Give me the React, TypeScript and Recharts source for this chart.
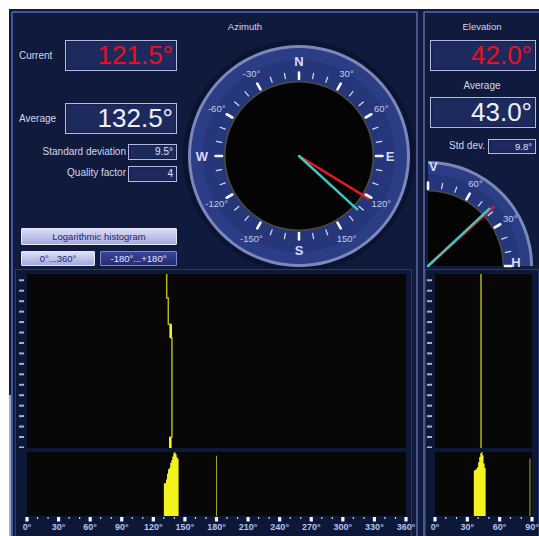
import React from 'react';
import {
  PieChart, Pie, RadialBarChart, RadialBar, PolarAngleAxis,
  LineChart, Line, XAxis, YAxis, CartesianGrid, ComposedChart, Area,
} from 'recharts';

const FONT = '"Liberation Sans", Arial, Helvetica, sans-serif';

// ---------- readouts ----------
const azCurrent = 121.5;
const azAverage = 132.5;
const azStdDev = 9.5;
const azQuality = 4;
const elCurrent = 42.0;
const elAverage = 43.0;
const elStdDev = 9.8;

// ---------- dials ----------
const azDialTicks = [0, 10, 20, 30, 40, 50, 60, 70, 80, 90, 100, 110, 120, 130, 140, 150, 160, 170,
  180, 190, 200, 210, 220, 230, 240, 250, 260, 270, 280, 290, 300, 310, 320, 330, 340, 350];
const azDialLabels: Record<number, string> = {
  0: 'N', 30: '30°', 60: '60°', 90: 'E', 120: '120°', 150: '150°', 180: 'S',
  210: '-150°', 240: '-120°', 270: 'W', 300: '-60°', 330: '-30°',
};
const elDialTicks = [0, 10, 20, 30, 40, 50, 60, 70, 80, 90];
const elDialLabels: Record<number, string> = { 0: 'H', 30: '30°', 60: '60°', 90: 'V' };
const dialFace = [{ name: 'face', value: 1 }];

// ---------- histograms ----------
const azHistDeg = [130, 131, 132, 133, 134, 135, 136, 137, 138, 139, 140, 141, 142, 143, 144];
const azHistCount = [51, 51, 57, 66, 73, 75, 83, 87, 93, 98, 100, 97, 92, 89, 0];
const azSpikeDeg = [179.5, 180.5];
const azSpikeCount = [94, 0];
const azAxisTicks = [0, 10, 20, 30, 40, 50, 60, 70, 80, 90, 100, 110, 120, 130, 140, 150, 160, 170, 180,
  190, 200, 210, 220, 230, 240, 250, 260, 270, 280, 290, 300, 310, 320, 330, 340, 350, 360];

const elHistDeg = [36, 37, 38, 39, 40, 41, 42, 43, 44, 45, 46, 47];
const elHistCount = [71, 72, 74, 76, 84, 92, 98, 100, 95, 82, 75, 0];
const elSpikeDeg = [87.6, 88.6];
const elSpikeCount = [90, 0];
const elAxisTicks = [0, 10, 20, 30, 40, 50, 60, 70, 80, 90];

// ---------- traces (time runs downward) ----------
const timeDomain: [number, number] = [-0.6, 16.05];
const timeTicks = [0, 1, 2, 3, 4, 5, 6, 7, 8, 9, 10, 11, 12, 13, 14, 15, 16];
const azTraceAz = [132.7, 132.7, 134.2, 134.2, 136.5, 136.5, 137.7, 137.7, 136.1, 136.1];
const azTraceT = [-0.6, 1.7, 1.7, 4.2, 4.2, 5.5, 5.5, 15.0, 15.0, 16.05];
const azTraceDense = [null, null, null, null, 4.2, 5.5, null, null, 15.0, 16.05];
const elTraceEl = [42.7, 42.7];
const elTraceT = [-0.6, 16.05];

// ---------- build tables ----------
const histTable = (deg: number[], cnt: number[], sDeg: number[], sCnt: number[]) => [
  ...deg.map((d, i) => ({ deg: d, hist: cnt[i] })),
  ...sDeg.map((d, i) => ({ deg: d, spike: sCnt[i] })),
];
const azHistData = histTable(azHistDeg, azHistCount, azSpikeDeg, azSpikeCount);
const elHistData = histTable(elHistDeg, elHistCount, elSpikeDeg, elSpikeCount);
const azTraceData = azTraceAz.map((a, i) => ({ az: a, t: azTraceT[i], tb: azTraceDense[i] }));
const elTraceData = elTraceEl.map((a, i) => ({ az: a, t: elTraceT[i] }));
const azNeedles = [{ name: 'azimuth', current: azCurrent, average: azAverage }];
const elNeedles = [{ name: 'elevation', current: elCurrent, average: elAverage }];

// ---------- helpers ----------
const RAD = Math.PI / 180;
const polar = (cx: number, cy: number, r: number, ang: number) => ({
  x: cx + r * Math.cos(-ang * RAD),
  y: cy + r * Math.sin(-ang * RAD),
});

const makeDialTick = (cx: number, cy: number, labels: Record<number, string>, shift: Record<number, [number, number]>) =>
  (props: any) => {
    const v = props.payload.value;
    const ang = props.payload.coordinate;
    const major = v % 30 === 0;
    const a = polar(cx, cy, major ? 77 : 78.5, ang);
    const b = polar(cx, cy, major ? 83.5 : 84, ang);
    const lbl = labels[v];
    const s = shift[v] || [95, 0];
    const lp = polar(cx, cy, s[0], ang + s[1]);
    const isLetter = lbl && !lbl.includes('°');
    return (
      <g>
        <line x1={a.x} y1={a.y} x2={b.x} y2={b.y} stroke={major ? '#f4f6ff' : '#d6dcf4'}
          strokeWidth={major ? 2.6 : 1.2} strokeLinecap="round" />
        {lbl && (
          <text x={lp.x} y={lp.y} textAnchor="middle" dominantBaseline="central"
            fontFamily={FONT} fontSize={isLetter ? 13 : 9.5} fontWeight={isLetter ? 'bold' : 'normal'}
            fill={isLetter ? '#d4dafc' : '#c6ccee'}>{lbl}</text>
        )}
      </g>
    );
  };

const needle = (color: string, len: number, w: number) => (props: any) => {
  const { cx, cy, endAngle } = props;
  const p = polar(cx, cy, len, endAngle);
  return <line x1={cx} y1={cy} x2={p.x} y2={p.y} stroke={color} strokeWidth={w} strokeLinecap="round" />;
};

const degTick = (every: number) => (props: any) => {
  const { x, y, payload } = props;
  const v = payload.value;
  if (v % every !== 0) {
    return <rect x={x - 0.6} y={y + 1} width={1.2} height={2} fill="#cfd4ee" />;
  }
  return (
    <g>
      <rect x={x - 1.6} y={y + 1} width={3.2} height={4.5} fill="#f2f4ff" />
      <text x={x} y={y + 14} textAnchor="middle" fontFamily={FONT} fontSize={9} fontWeight="bold"
        fill="#b6c2f2">{v}°</text>
    </g>
  );
};

const dashTick = (props: any) => {
  const { x, y } = props;
  return <rect x={x - 5} y={y - 1} width={5} height={2} fill="#a8b0d4" />;
};

// ---------- UI bits ----------
const abs = (left: number, top: number, extra: React.CSSProperties = {}): React.CSSProperties => ({
  position: 'absolute', left, top, ...extra,
});

const ValueBox = ({ left, top, width, height, text, color, size }: any) => (
  <div style={abs(left, top, {
    width, height, boxSizing: 'border-box', background: '#1d2a5e',
    border: '1px solid #b4bbde', boxShadow: 'inset 0 0 2px #0a1030',
    color, fontSize: size, fontFamily: FONT, textAlign: 'right', paddingRight: 3,
    lineHeight: `${height - 2}px`, overflow: 'hidden', whiteSpace: 'nowrap',
  })}>{text}</div>
);

const Label = ({ left, right, center, y, text, size = 10 }: any) => {
  const st: React.CSSProperties = {
    position: 'absolute', top: y - 7, height: 14, lineHeight: '14px', fontSize: size,
    fontFamily: FONT, color: '#d2d6ea', whiteSpace: 'nowrap',
  };
  if (left !== undefined) st.left = left;
  if (right !== undefined) { st.left = right - 200; st.width = 200; st.textAlign = 'right'; }
  if (center !== undefined) { st.left = center - 100; st.width = 200; st.textAlign = 'center'; }
  return <div style={st}>{text}</div>;
};

const Button = ({ left, top, width, height, text, dark }: any) => (
  <div style={abs(left, top, {
    width, height, boxSizing: 'border-box',
    background: dark ? 'linear-gradient(#3a449a, #232c72)' : 'linear-gradient(#dcdef8, #a4a9dc)',
    border: dark ? '1px solid #7e88c8' : '1px solid #e6e8fb',
    color: dark ? '#e6e9fb' : '#1c2572', fontSize: 9.5, fontFamily: FONT,
    textAlign: 'center', lineHeight: `${height - 2}px`, whiteSpace: 'nowrap', borderRadius: 1,
  })}>{text}</div>
);

const fmt = (v: number) => `${v.toFixed(1)}°`;

export default function App() {
  const AZ_CX = 120;
  const AZ_CY = 120;
  const EL_CX = 4;
  const EL_CY = 116;
  return (
    <div style={{ position: 'fixed', left: 0, top: 0, width: 539, height: 536, background: '#ffffff', overflow: 'hidden', fontFamily: FONT }}>
      <div style={abs(9, 9, { width: 530, height: 527, background: '#101a3d' })} />
      <div style={abs(9, 395, { width: 2, height: 141, background: '#8fb2d6' })} />

      {/* panels */}
      <div style={abs(11, 11, { width: 407, height: 540, boxSizing: 'border-box', border: '2px solid #46568e', borderRadius: 2 })} />
      <div style={abs(423, 11, { width: 130, height: 540, boxSizing: 'border-box', border: '2px solid #46568e', borderRadius: 2 })} />

      <Label center={245} y={27} text="Azimuth" size={9.5} />
      <Label center={482} y={27} text="Elevation" size={9.5} />

      {/* azimuth readouts */}
      <Label left={19} y={56} text="Current" />
      <ValueBox left={65} top={40} width={112} height={31} text={fmt(azCurrent)} color="#e6121e" size={26} />
      <Label left={19} y={119} text="Average" />
      <ValueBox left={65} top={103} width={112} height={31} text={fmt(azAverage)} color="#eef0fa" size={26} />
      <Label right={126} y={152} text="Standard deviation" />
      <ValueBox left={128} top={144} width={49} height={16} text={fmt(azStdDev)} color="#dfe3f6" size={10} />
      <Label right={126} y={173} text="Quality factor" />
      <ValueBox left={128} top={166} width={49} height={16} text={String(azQuality)} color="#dfe3f6" size={10} />

      <Button left={21} top={228} width={156} height={17} text="Logarithmic histogram" />
      <Button left={21} top={251} width={74} height={15} text="0°...360°" />
      <Button left={100} top={251} width={77} height={15} text="-180°...+180°" dark />

      {/* elevation readouts */}
      <ValueBox left={430} top={40} width={106} height={31} text={fmt(elCurrent)} color="#e6121e" size={26} />
      <Label center={482} y={86} text="Average" />
      <ValueBox left={430} top={97} width={106} height={31} text={fmt(elAverage)} color="#eef0fa" size={26} />
      <Label right={485} y={146} text="Std dev." />
      <ValueBox left={488} top={139} width={48} height={15} text={fmt(elStdDev)} color="#dfe3f6" size={9.5} />

      {/* azimuth compass face */}
      <div style={abs(179, 36)}>
        <PieChart width={240} height={240} margin={{ top: 0, right: 0, bottom: 0, left: 0 }}>
          <Pie data={dialFace} dataKey="value" cx={AZ_CX} cy={AZ_CY} innerRadius={108} outerRadius={116}
            startAngle={90} endAngle={-270} fill="#0b1331" stroke="none" isAnimationActive={false} />
          <Pie data={dialFace} dataKey="value" cx={AZ_CX} cy={AZ_CY} innerRadius={74} outerRadius={110}
            startAngle={90} endAngle={-270} fill="#25367a" stroke="none" isAnimationActive={false} />
          <Pie data={dialFace} dataKey="value" cx={AZ_CX} cy={AZ_CY} innerRadius={96} outerRadius={108}
            startAngle={90} endAngle={-270} fill="#2b3d84" stroke="none" isAnimationActive={false} />
          <Pie data={dialFace} dataKey="value" cx={AZ_CX} cy={AZ_CY} innerRadius={108} outerRadius={111}
            startAngle={90} endAngle={-270} fill="#7c88bc" stroke="none" isAnimationActive={false} />
          <Pie data={dialFace} dataKey="value" cx={AZ_CX} cy={AZ_CY} innerRadius={0} outerRadius={75}
            startAngle={90} endAngle={-270} fill="#4c4c42" stroke="none" isAnimationActive={false} />
          <Pie data={dialFace} dataKey="value" cx={AZ_CX} cy={AZ_CY} innerRadius={0} outerRadius={73.5}
            startAngle={90} endAngle={-270} fill="#040404" stroke="none" isAnimationActive={false} />
        </PieChart>
      </div>
      <div style={abs(179, 36)}>
        <RadialBarChart width={240} height={240} data={azNeedles} cx={AZ_CX} cy={AZ_CY}
          innerRadius={0} outerRadius={74} startAngle={90} endAngle={-270}
          margin={{ top: 0, right: 0, bottom: 0, left: 0 }}>
          <PolarAngleAxis type="number" domain={[0, 360]} ticks={azDialTicks} axisLine={false}
            tickLine={false} tick={makeDialTick(AZ_CX, AZ_CY, azDialLabels, { 0: [95, 0], 90: [91, 0], 180: [94, 0], 270: [97, 0] })} />
          <RadialBar dataKey="current" isAnimationActive={false} shape={needle('#e2182a', 81, 2.6)} />
          <RadialBar dataKey="average" isAnimationActive={false} shape={needle('#3cc8c2', 79, 2.4)} />
        </RadialBarChart>
      </div>

      {/* elevation quarter dial */}
      <div style={abs(424, 150)}>
        <PieChart width={115} height={120} margin={{ top: 0, right: 0, bottom: 0, left: 0 }}>
          <Pie data={dialFace} dataKey="value" cx={EL_CX} cy={EL_CY} innerRadius={75} outerRadius={104}
            startAngle={0} endAngle={90} fill="#25367a" stroke="none" isAnimationActive={false} />
          <Pie data={dialFace} dataKey="value" cx={EL_CX} cy={EL_CY} innerRadius={92} outerRadius={102}
            startAngle={0} endAngle={90} fill="#2b3d84" stroke="none" isAnimationActive={false} />
          <Pie data={dialFace} dataKey="value" cx={EL_CX} cy={EL_CY} innerRadius={102} outerRadius={105}
            startAngle={0} endAngle={90} fill="#7c88bc" stroke="none" isAnimationActive={false} />
          <Pie data={dialFace} dataKey="value" cx={EL_CX} cy={EL_CY} innerRadius={0} outerRadius={76}
            startAngle={0} endAngle={90} fill="#4c4c42" stroke="none" isAnimationActive={false} />
          <Pie data={dialFace} dataKey="value" cx={EL_CX} cy={EL_CY} innerRadius={0} outerRadius={74.5}
            startAngle={0} endAngle={90} fill="#040404" stroke="none" isAnimationActive={false} />
        </PieChart>
      </div>
      <div style={abs(424, 150)}>
        <RadialBarChart width={115} height={120} data={elNeedles} cx={EL_CX} cy={EL_CY}
          innerRadius={0} outerRadius={75} startAngle={0} endAngle={90}
          margin={{ top: 0, right: 0, bottom: 0, left: 0 }}>
          <PolarAngleAxis type="number" domain={[0, 90]} ticks={elDialTicks} axisLine={false}
            tickLine={false} tick={makeDialTick(EL_CX, EL_CY, elDialLabels, { 90: [100, -3], 0: [88, 2.5] })} />
          <RadialBar dataKey="current" isAnimationActive={false} shape={needle('#e2182a', 88, 2.6)} />
          <RadialBar dataKey="average" isAnimationActive={false} shape={needle('#3cc8c2', 84, 2.4)} />
        </RadialBarChart>
      </div>

      {/* chart frames */}
      <div style={abs(15, 269, { width: 397, height: 270, boxSizing: 'border-box', border: '1px solid #2a3a70', background: '#0d1737' })} />
      <div style={abs(425, 269, { width: 114, height: 270, boxSizing: 'border-box', border: '1px solid #2a3a70', background: '#0d1737' })} />

      {/* azimuth trace */}
      <div style={abs(16, 274)}>
        <LineChart width={390} height={174} data={azTraceData} margin={{ top: 0, right: 0, bottom: 0, left: 0 }}>
          <CartesianGrid fill="#070707" horizontal={false} vertical={false} />
          <XAxis type="number" dataKey="az" domain={[0, 360]} hide />
          <YAxis type="number" domain={timeDomain} ticks={timeTicks} reversed width={11} interval={0}
            axisLine={false} tickLine={false} tickSize={0} tickMargin={3} tick={dashTick} allowDataOverflow />
          <Line dataKey="t" stroke="#b4b41e" strokeWidth={1.5} dot={false} isAnimationActive={false} />
          <Line dataKey="tb" stroke="#f2f21c" strokeWidth={2.6} dot={false} isAnimationActive={false} />
        </LineChart>
      </div>

      {/* azimuth histogram */}
      <div style={abs(17, 452)}>
        <ComposedChart width={401} height={84} data={azHistData} margin={{ top: 0, right: 12, bottom: 0, left: 10 }}>
          <CartesianGrid fill="#070707" horizontal={false} vertical={false} />
          <XAxis type="number" dataKey="deg" domain={[0, 360]} ticks={azAxisTicks} interval={0} height={20}
            axisLine={false} tickLine={false} tickSize={0} tickMargin={0} tick={degTick(30)} />
          <YAxis hide domain={[0, 100]} />
          <Area type="stepAfter" dataKey="hist" fill="#f2f21e" fillOpacity={1} stroke="none" isAnimationActive={false} />
          <Area type="stepAfter" dataKey="spike" fill="#a4a41a" fillOpacity={1} stroke="none" isAnimationActive={false} />
        </ComposedChart>
      </div>

      {/* elevation trace */}
      <div style={abs(425, 274)}>
        <LineChart width={107} height={174} data={elTraceData} margin={{ top: 0, right: 0, bottom: 0, left: 0 }}>
          <CartesianGrid fill="#070707" horizontal={false} vertical={false} />
          <XAxis type="number" dataKey="az" domain={[0, 90]} hide />
          <YAxis type="number" domain={timeDomain} ticks={timeTicks} reversed width={10} interval={0}
            axisLine={false} tickLine={false} tickSize={0} tickMargin={3} tick={dashTick} allowDataOverflow />
          <Line dataKey="t" stroke="#b4b41e" strokeWidth={1.5} dot={false} isAnimationActive={false} />
        </LineChart>
      </div>

      {/* elevation histogram */}
      <div style={abs(425, 452)}>
        <ComposedChart width={117} height={84} data={elHistData} margin={{ top: 0, right: 10, bottom: 0, left: 10 }}>
          <CartesianGrid fill="#070707" horizontal={false} vertical={false} />
          <XAxis type="number" dataKey="deg" domain={[0, 90]} ticks={elAxisTicks} interval={0} height={20}
            axisLine={false} tickLine={false} tickSize={0} tickMargin={0} tick={degTick(30)} />
          <YAxis hide domain={[0, 100]} />
          <Area type="stepAfter" dataKey="hist" fill="#f2f21e" fillOpacity={1} stroke="none" isAnimationActive={false} />
          <Area type="stepAfter" dataKey="spike" fill="#a4a41a" fillOpacity={1} stroke="none" isAnimationActive={false} />
        </ComposedChart>
      </div>
    </div>
  );
}
